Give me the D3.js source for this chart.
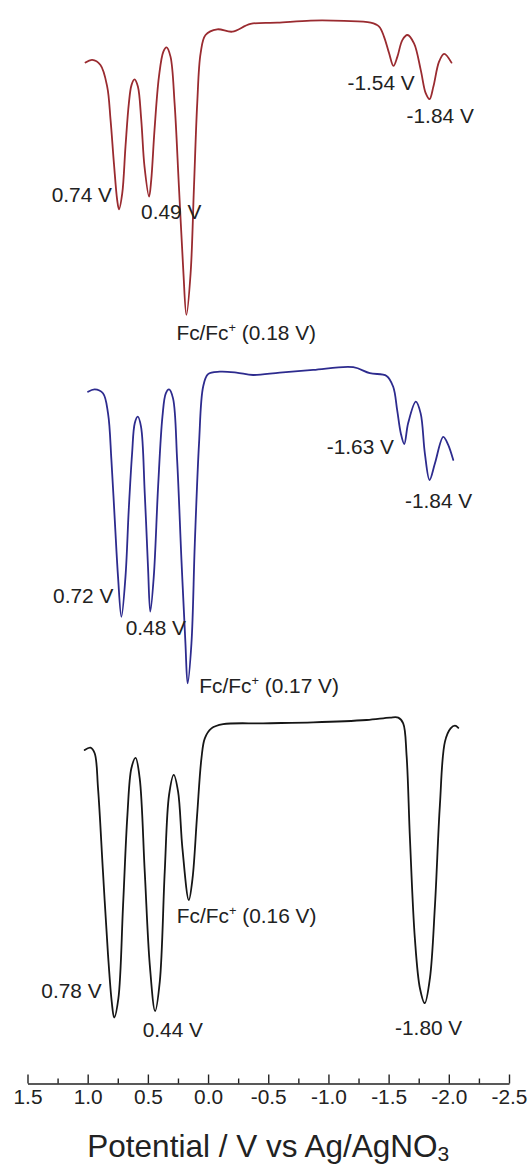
<!DOCTYPE html>
<html>
<head>
<meta charset="utf-8">
<script src="https://cdn.jsdelivr.net/npm/d3@7"></script>
<style>
  html, body { margin: 0; padding: 0; background: #fff; }
  svg { display: block; font-family: "Liberation Sans", Arial, Helvetica, sans-serif; }
</style>
</head>
<body>
<svg id="chart" width="532" height="1166"></svg>
<script>
// Differential pulse voltammograms: [potential (V vs Ag/AgNO3), current (a.u.)]
const topTrace = [
  [1.018,-14.2],[0.963,-13.3],[0.894,-15.0],[0.838,-22.2],[0.810,-33.3],[0.782,-47.8],[0.755,-60.0],
  [0.740,-63.1],[0.713,-57.8],[0.686,-42.2],[0.658,-27.8],[0.636,-21.7],[0.611,-19.8],[0.583,-22.2],
  [0.555,-33.3],[0.528,-48.9],[0.490,-58.9],[0.472,-53.3],[0.445,-36.7],[0.408,-18.9],[0.372,-10.6],
  [0.345,-9.1],[0.312,-12.2],[0.278,-27.8],[0.242,-55.6],[0.206,-83.3],[0.180,-98.3],[0.145,-84.4],
  [0.117,-55.6],[0.090,-27.8],[0.062,-11.1],[0.021,-5.0],[-0.076,-3.1],[-0.201,-3.9],[-0.353,-1.3],
  [-0.575,-0.9],[-0.852,-0.2],[-1.130,-0.3],[-1.351,-0.9],[-1.421,-2.2],[-1.462,-5.6],[-1.504,-11.1],
  [-1.540,-15.3],[-1.573,-12.2],[-1.614,-6.7],[-1.656,-5.0],[-1.711,-7.8],[-1.767,-16.7],[-1.808,-24.4],
  [-1.840,-26.4],[-1.872,-22.2],[-1.919,-13.9],[-1.961,-11.3],[-2.022,-14.2]
];
const middleTrace = [
  [0.997,-10.6],[0.942,-9.8],[0.873,-11.1],[0.831,-17.8],[0.803,-33.3],[0.775,-53.3],[0.748,-72.2],
  [0.720,-85.6],[0.686,-72.2],[0.659,-50.0],[0.631,-31.1],[0.609,-21.1],[0.584,-18.9],[0.557,-22.2],
  [0.526,-44.4],[0.499,-68.9],[0.480,-83.9],[0.451,-72.2],[0.415,-42.2],[0.379,-18.9],[0.351,-11.1],
  [0.324,-9.8],[0.291,-12.8],[0.257,-33.3],[0.221,-66.7],[0.188,-94.4],[0.170,-107.8],[0.138,-94.4],
  [0.110,-61.1],[0.075,-27.8],[0.041,-8.9],[0.000,-4.7],[-0.097,-3.9],[-0.236,-4.2],[-0.374,-5.0],
  [-0.596,-4.2],[-0.873,-3.3],[-1.206,-2.4],[-1.344,-4.4],[-1.483,-5.3],[-1.538,-8.9],[-1.571,-16.7],
  [-1.601,-24.4],[-1.630,-28.0],[-1.662,-21.1],[-1.726,-13.9],[-1.766,-17.8],[-1.801,-31.1],
  [-1.840,-40.0],[-1.885,-34.4],[-1.954,-25.6],[-1.995,-28.3],[-2.037,-33.3]
];
const bottomTrace = [
  [1.025,-15.0],[0.977,-14.2],[0.942,-16.1],[0.914,-27.8],[0.873,-55.6],[0.831,-83.3],[0.800,-99.0],
  [0.780,-104.2],[0.745,-97.8],[0.706,-66.7],[0.670,-36.7],[0.637,-21.1],[0.602,-17.6],[0.568,-24.4],
  [0.526,-55.6],[0.484,-86.7],[0.440,-102.0],[0.401,-92.2],[0.360,-55.6],[0.324,-30.0],[0.285,-23.3],
  [0.249,-28.9],[0.213,-47.8],[0.160,-65.0],[0.129,-57.8],[0.091,-36.7],[0.055,-17.8],[0.027,-11.1],
  [-0.028,-7.8],[-0.125,-6.4],[-0.457,-6.1],[-0.873,-5.8],[-1.317,-5.0],[-1.511,-4.2],[-1.580,-4.2],
  [-1.621,-6.1],[-1.649,-16.7],[-1.677,-44.4],[-1.718,-77.8],[-1.760,-94.4],[-1.800,-99.4],
  [-1.843,-91.1],[-1.885,-66.7],[-1.926,-33.3],[-1.968,-12.2],[-2.015,-7.8],[-2.051,-6.9],[-2.079,-7.6]
];

// Labelled peak potentials (V); the ferrocene reference is flagged by index
const topPeaks = [0.74, 0.49, 0.18, -1.54, -1.84];
const middlePeaks = [0.72, 0.48, 0.17, -1.63, -1.84];
const bottomPeaks = [0.78, 0.44, 0.16, -1.80];
const ferroceneIndex = 2;

// Axis
const tickValues = [1.5, 1.0, 0.5, 0.0, -0.5, -1.0, -1.5, -2.0, -2.5];
const tickLabels = ["1.5", "1.0", "0.5", "0.0", "-0.5", "-1.0", "-1.5", "-2.0", "-2.5"];
const minorTickValues = [1.25, 0.75, 0.25, -0.25, -0.75, -1.25, -1.75, -2.25];
const axisTitle = "Potential / V vs Ag/AgNO";
const axisTitleSub = "3";

// ---- drawing ----
const svg = d3.select("#chart");
const textColor = "#222";
const stretch = 1.07;

const x = d3.scaleLinear().domain([1.5, -2.5]).range([27.5, 509]);

const panels = [
  { trace: topTrace, peaks: topPeaks, color: "#9a2b30", top: 20,
    labelLayout: [[-7,-7.6,"end"],[-8,22.6,"start"],[-10,25,"start"],[-46,24,"start"],[-23,24,"start"]] },
  { trace: middleTrace, peaks: middlePeaks, color: "#2d2b8e", top: 360,
    labelLayout: [[-8,-13.5,"end"],[-24.6,23.3,"start"],[11.7,10,"start"],[-10.3,10,"end"],[-24.6,28.3,"start"]] },
  { trace: bottomTrace, peaks: bottomPeaks, color: "#161616", top: 705,
    labelLayout: [[-12.5,-20,"end"],[-12.4,26.3,"start"],[-12,22.7,"start"],[-29.7,31.8,"start"]] }
];

panels.forEach(p => {
  const y = d3.scaleLinear().domain([0, -100]).range([p.top, p.top + 300]);
  const line = d3.line()
    .x(d => x(d[0]))
    .y(d => y(d[1]))
    .curve(d3.curveCatmullRom.alpha(0.5));

  svg.append("path")
    .datum(p.trace)
    .attr("d", line)
    .attr("fill", "none")
    .attr("stroke", p.color)
    .attr("stroke-width", 1.8)
    .attr("stroke-linejoin", "round")
    .attr("stroke-linecap", "round");

  p.peaks.forEach((v, i) => {
    const pt = p.trace.reduce((a, b) => Math.abs(b[0] - v) < Math.abs(a[0] - v) ? b : a);
    const [dx, dy, anchor] = p.labelLayout[i];
    const g = svg.append("g")
      .attr("transform", `translate(${x(v) + dx},${y(pt[1]) + dy}) scale(${stretch},1)`);
    const t = g.append("text")
      .attr("text-anchor", anchor)
      .attr("font-size", 19.5)
      .attr("fill", textColor);
    const value = v.toFixed(2) + " V";
    if (i === ferroceneIndex) {
      t.append("tspan").text("Fc/Fc");
      t.append("tspan").attr("font-size", 12).attr("dy", -8).text("+");
      t.append("tspan").attr("dy", 8).text(" (" + value + ")");
    } else {
      t.text(value);
    }
  });
});

// Potential axis with inward ticks
const axisY = 1083.5;
const axis = d3.axisBottom(x)
  .tickValues(tickValues)
  .tickFormat((d, i) => tickLabels[i])
  .tickSizeInner(-9)
  .tickSizeOuter(0);

const axisG = svg.append("g")
  .attr("transform", `translate(0,${axisY})`)
  .call(axis);
axisG.select(".domain").attr("stroke", "#222").attr("stroke-width", 1.6);
axisG.selectAll(".tick line").attr("stroke", "#222").attr("stroke-width", 1.4);
axisG.selectAll(".tick text")
  .attr("y", 20.5)
  .attr("dy", null)
  .attr("transform", `scale(${stretch},1)`)
  .attr("font-size", 19.5)
  .attr("font-family", "Liberation Sans, Arial, sans-serif")
  .attr("fill", textColor);

const minorAxis = d3.axisBottom(x)
  .tickValues(minorTickValues)
  .tickFormat("")
  .tickSizeInner(-5)
  .tickSizeOuter(0);
const minorG = svg.append("g")
  .attr("transform", `translate(0,${axisY})`)
  .call(minorAxis);
minorG.select(".domain").remove();
minorG.selectAll(".tick line").attr("stroke", "#222").attr("stroke-width", 1.4);

// Axis title
const title = svg.append("text")
  .attr("x", (x.range()[0] + x.range()[1]) / 2)
  .attr("y", 1157)
  .attr("text-anchor", "middle")
  .attr("font-size", 31.5)
  .attr("fill", textColor);
title.append("tspan").text(axisTitle);
title.append("tspan").attr("font-size", 21).attr("dy", 4).text(axisTitleSub);
</script>
</body>
</html>
